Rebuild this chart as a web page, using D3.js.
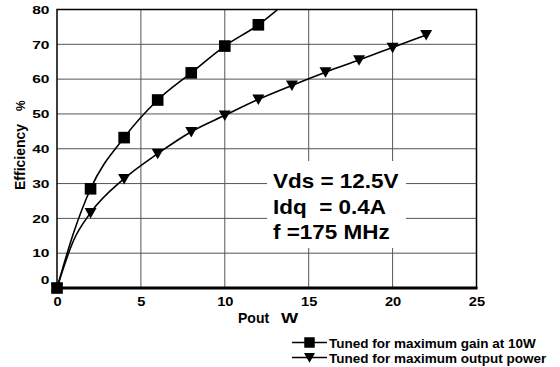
<!DOCTYPE html>
<html>
<head>
<meta charset="utf-8">
<script src="https://cdn.jsdelivr.net/npm/d3@7"></script>
<style>
  body { margin: 0; background: #fff; }
  text { font-family: Arial, "Liberation Sans", sans-serif; font-weight: bold; }
</style>
</head>
<body>
<svg id="chart" width="560" height="367"></svg>
<script>
// data
var xTicks = [0, 5, 10, 15, 20, 25];
var yTicks = [0, 10, 20, 30, 40, 50, 60, 70, 80];

// tuned for maximum gain at 10W (squares)
var gainX = [0, 2, 4, 6, 8, 10, 12];
var gainY = [0, 28.5, 43.2, 54, 61.8, 69.5, 75.6];
// extra line-only points (no marker)
var gainExtraX = [1, 14];
var gainExtraY = [16, 83.5];

// tuned for maximum output power (triangles)
var powerX = [0, 2, 4, 6, 8, 10, 12, 14, 16, 18, 20, 22];
var powerY = [0, 21.6, 31.4, 38.6, 44.9, 49.6, 54.2, 58.2, 62, 65.5, 69.1, 72.7];
var powerExtraX = [1];
var powerExtraY = [13.8];

var legendLabels = ["Tuned for maximum gain at 10W", "Tuned for maximum output power"];
var noteLines = ["Vds = 12.5V", "Idq  = 0.4A", "f =175 MHz"];

function zip(xs, ys) { return xs.map(function(x, i) { return [x, ys[i]]; }); }

// widen a text like the stretched font of the original
function stretch(sel, k) {
  sel.each(function() {
    var w = this.getComputedTextLength();
    d3.select(this).attr("textLength", w * k).attr("lengthAdjust", "spacingAndGlyphs");
  });
}

var svg = d3.select("#chart");
var pLeft = 57, pRight = 476.5, pTop = 9.5, pBottom = 288;

var x = d3.scaleLinear().domain([0, 25]).range([pLeft, pRight]);
var y = d3.scaleLinear().domain([0, 80]).range([pBottom, pTop]);

svg.append("defs").append("clipPath").attr("id", "clip")
  .append("rect").attr("x", pLeft).attr("y", pTop)
  .attr("width", pRight - pLeft).attr("height", pBottom - pTop);

// grid
svg.append("g").selectAll("line")
  .data(yTicks.slice(1, -1)).enter().append("line")
  .attr("x1", pLeft).attr("x2", pRight)
  .attr("y1", function(d) { return y(d); }).attr("y2", function(d) { return y(d); })
  .attr("stroke", "#555").attr("stroke-width", 1);
svg.append("g").selectAll("line")
  .data(xTicks.slice(1, -1)).enter().append("line")
  .attr("y1", pTop).attr("y2", pBottom)
  .attr("x1", function(d) { return x(d); }).attr("x2", function(d) { return x(d); })
  .attr("stroke", "#555").attr("stroke-width", 1);

// white box behind the note
svg.append("rect").attr("x", 267).attr("y", 161).attr("width", 139).attr("height", 87)
  .attr("fill", "#fff");

// frame
svg.append("rect").attr("x", pLeft).attr("y", pTop)
  .attr("width", pRight - pLeft).attr("height", pBottom - pTop)
  .attr("fill", "none").attr("stroke", "#000").attr("stroke-width", 1.5);
svg.append("line").attr("x1", pLeft).attr("x2", pRight + 1)
  .attr("y1", pBottom).attr("y2", pBottom)
  .attr("stroke", "#000").attr("stroke-width", 3);

// tick labels
var xAxis = svg.append("g").attr("transform", "translate(0," + (pBottom + 4) + ")")
  .call(d3.axisBottom(x).tickValues(xTicks).tickSize(0).tickPadding(5));
xAxis.select(".domain").remove();
xAxis.selectAll("text").attr("font-size", 12).attr("fill", "#000")
  .style("font-family", "Arial, 'Liberation Sans', sans-serif").style("font-weight", "bold")
  .call(stretch, 1.22);

var yAxis = svg.append("g").attr("transform", "translate(" + (pLeft - 7.5) + ",0)")
  .call(d3.axisLeft(y).tickValues(yTicks).tickSize(0).tickPadding(0));
yAxis.select(".domain").remove();
yAxis.selectAll("text").attr("font-size", 11.5).attr("fill", "#000")
  .style("font-family", "Arial, 'Liberation Sans', sans-serif").style("font-weight", "bold")
  .call(stretch, 1.35);
yAxis.selectAll(".tick").filter(function(d) { return d === 0; })
  .select("text").attr("y", -8);

// axis titles
svg.append("text").attr("x", 238).attr("y", 323).attr("font-size", 14).text("Pout");
svg.append("text").attr("x", 281).attr("y", 323).attr("font-size", 14).text("W")
  .call(stretch, 1.3);
svg.append("text").attr("transform", "translate(25,190) rotate(-90)")
  .attr("font-size", 14).text("Efficiency");
svg.append("text").attr("transform", "translate(25,111) rotate(-90)")
  .attr("font-size", 12).text("%");

// curves
var line = d3.line()
  .x(function(d) { return x(d[0]); })
  .y(function(d) { return y(d[1]); })
  .curve(d3.curveMonotoneX);

var gainLine = zip(gainX, gainY).concat(zip(gainExtraX, gainExtraY))
  .sort(function(a, b) { return a[0] - b[0]; });
var powerLine = zip(powerX, powerY).concat(zip(powerExtraX, powerExtraY))
  .sort(function(a, b) { return a[0] - b[0]; });

var plot = svg.append("g").attr("clip-path", "url(#clip)");
plot.append("path").datum(gainLine).attr("d", line)
  .attr("fill", "none").attr("stroke", "#000").attr("stroke-width", 1.6);
plot.append("path").datum(powerLine).attr("d", line)
  .attr("fill", "none").attr("stroke", "#000").attr("stroke-width", 1.6);

var sq = d3.symbol().type(d3.symbolSquare).size(135);
var tri = function(cx, cy, s) {
  return "M" + (cx - s) + "," + (cy - s * 0.8) + "L" + (cx + s) + "," + (cy - s * 0.8) +
    "L" + cx + "," + (cy + s * 0.95) + "Z";
};

svg.append("g").selectAll("path").data(zip(powerX, powerY)).enter().append("path")
  .attr("d", function(d) { return tri(x(d[0]), y(d[1]), 6); })
  .attr("fill", "#000");
svg.append("g").selectAll("path").data(zip(gainX, gainY)).enter().append("path")
  .attr("d", sq)
  .attr("transform", function(d) { return "translate(" + x(d[0]) + "," + y(d[1]) + ")"; })
  .attr("fill", "#000");

// note
var noteY = [187.5, 213.5, 238.5];
svg.append("g").selectAll("text").data(noteLines).enter().append("text")
  .attr("x", 273).attr("y", function(d, i) { return noteY[i]; })
  .attr("font-size", 21).attr("xml:space", "preserve").style("white-space", "pre")
  .text(function(d) { return d; })
  .call(stretch, 1.07);

// legend
var legY = [342.5, 357.5];
var leg = svg.append("g");
leg.selectAll("line").data(legendLabels).enter().append("line")
  .attr("x1", 292).attr("x2", 327)
  .attr("y1", function(d, i) { return legY[i]; }).attr("y2", function(d, i) { return legY[i]; })
  .attr("stroke", "#000").attr("stroke-width", 1.6);
leg.append("path").attr("d", d3.symbol().type(d3.symbolSquare).size(110))
  .attr("transform", "translate(309.5," + legY[0] + ")");
leg.append("path").attr("d", tri(309.5, legY[1], 5.5));
leg.selectAll("text").data(legendLabels).enter().append("text")
  .attr("x", 329).attr("y", function(d, i) { return legY[i] + 5; })
  .attr("font-size", 13.5).text(function(d) { return d; });
</script>
</body>
</html>
